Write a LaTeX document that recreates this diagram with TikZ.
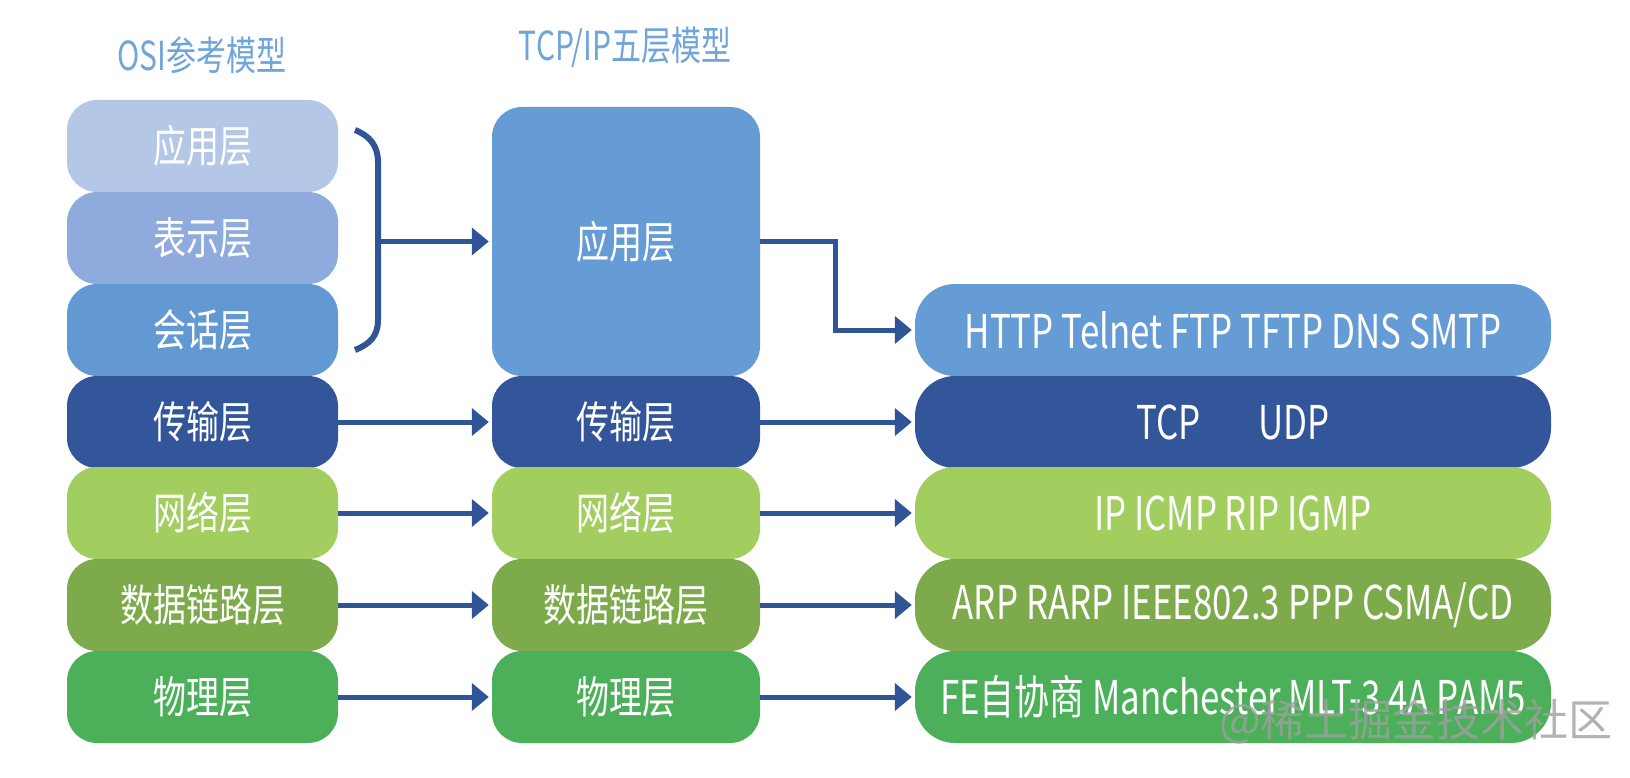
\documentclass[tikz,border=0pt]{standalone}
\usepackage{fontspec}
\setmainfont{Noto Sans CJK SC}[FakeStretch=0.75]
\newfontfamily\wmfont{Noto Sans CJK SC}
\usetikzlibrary{arrows.meta}
\definecolor{cA}{HTML}{B4C7E7}
\definecolor{cB}{HTML}{8FAADC}
\definecolor{cC}{HTML}{6399D3}
\definecolor{cT}{HTML}{659CD5}
\definecolor{cD}{HTML}{33569A}
\definecolor{cN}{HTML}{A2CD5F}
\definecolor{cL}{HTML}{7DAB4B}
\definecolor{cP}{HTML}{4CAF5A}
\definecolor{arrowc}{HTML}{2F5597}
\definecolor{titlec}{HTML}{6FA5DA}
\begin{document}
\begin{tikzpicture}[x=1pt,y=-1pt,
  layer/.style={rounded corners=30pt, text=white, inner sep=0pt, anchor=center,
    font=\fontsize{44}{50}\selectfont},
  osi/.style={layer, minimum width=271pt, minimum height=92pt},
  tcp/.style={layer, minimum width=268pt, minimum height=92pt},
  proto/.style={layer, rounded corners=40pt, minimum width=636pt, minimum height=92pt,
    font=\fontsize{46.5}{52}\selectfont},
  title/.style={text=titlec, inner sep=0pt, font=\fontsize{40}{46}\selectfont},
  arr/.style={draw=arrowc, line width=5pt, -{Triangle[length=17pt,width=27pt]}, shorten >=3pt},
  brace/.style={draw=arrowc, line width=6pt}
]
\useasboundingbox (0,0) rectangle (1630,778);
\fill[white] (0,0) rectangle (1630,778);

% titles
\node[title] (ttl1) at (202,55) {OSI参考模型};
\node[title] (ttl2) at (625,47) {TCP/IP五层模型};

% OSI column
\node[osi, fill=cA] (o1) at (202.5,146) {应用层};
\node[osi, fill=cB] (o2) at (202.5,238) {表示层};
\node[osi, fill=cC] (o3) at (202.5,330) {会话层};
\node[osi, fill=cD] (o4) at (202.5,422) {传输层};
\node[osi, fill=cN] (o5) at (202.5,513) {网络层};
\node[osi, fill=cL] (o6) at (202.5,605) {数据链路层};
\node[osi, fill=cP] (o7) at (202.5,697) {物理层};

% TCP/IP column
\node[tcp, fill=cT, minimum height=269pt] (t1) at (626,241.5) {应用层};
\node[tcp, fill=cD] (t4) at (626,422) {传输层};
\node[tcp, fill=cN] (t5) at (626,513) {网络层};
\node[tcp, fill=cL] (t6) at (626,605) {数据链路层};
\node[tcp, fill=cP] (t7) at (626,697) {物理层};

% protocol column
\node[proto, fill=cT] (p3) at (1233,330) {HTTP Telnet FTP TFTP DNS SMTP};
\node[proto, fill=cD] (p4) at (1233,422) {TCP\hspace{58pt}UDP};
\node[proto, fill=cN] (p5) at (1233,513) {IP ICMP RIP IGMP};
\node[proto, fill=cL] (p6) at (1233,605) {ARP RARP IEEE802.3 PPP CSMA/CD};
\node[proto, fill=cP] (p7) at (1233,697) {FE自协商 Manchester MLT-3 4A PAM5};

% brace
\coordinate (bt) at (355,130);
\coordinate (bb) at (355,350);
\coordinate (bm) at (378,241.5);
\draw[brace] (bt) .. controls (370,136) and (378,146) .. (378,162)
  -- (378,320) .. controls (378,336) and (370,344) .. (bb);
\draw[arr] (bm) -- (t1.west);

% arrows
\draw[arr] (t1.east) -- ++(75,0) |- (p3.west);
\foreach \i in {4,5,6,7}{
  \draw[arr] (o\i.east) -- (t\i.west);
  \draw[arr] (t\i.east) -- (p\i.west);
}

% watermark
\node[text=gray!75, opacity=0.8, inner sep=0pt, font=\wmfont\fontsize{44}{50}\selectfont] (wm) at (1416,722) {@稀土掘金技术社区};
\end{tikzpicture}
\end{document}
